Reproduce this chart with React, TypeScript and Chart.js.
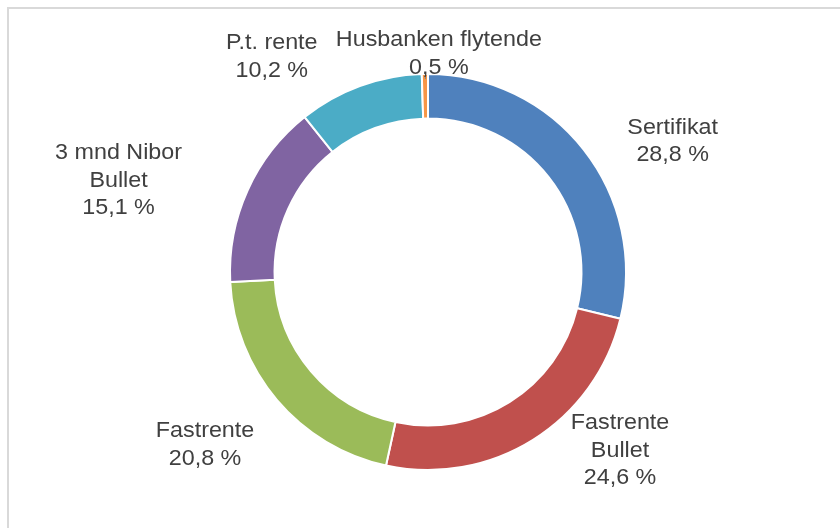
import React, { useEffect, useRef } from "react";
import { Chart, registerables } from "chart.js";

Chart.register(...registerables);

const categories = [
  "Sertifikat",
  "Fastrente Bullet",
  "Fastrente",
  "3 mnd Nibor Bullet",
  "P.t. rente",
  "Husbanken flytende",
];
const labelLines = [
  ["Sertifikat"],
  ["Fastrente", "Bullet"],
  ["Fastrente"],
  ["3 mnd Nibor", "Bullet"],
  ["P.t. rente"],
  ["Husbanken flytende"],
];
const shares = [28.8, 24.6, 20.8, 15.1, 10.2, 0.5];
const colors = ["#4F81BD", "#C0504D", "#9BBB59", "#8064A2", "#4BACC6", "#F79646"];
// label offsets (px) from the slice's outer mid-point, mimicking Excel's "best fit"
const labelNudge: [number, number][] = [
  [89, -8],
  [87, 11],
  [-72, 45],
  [-129, -10],
  [-88, -29],
  [14, -20],
];
const leaderLineFor = [false, false, false, false, false, true];

const fmt = (v: number) => v.toFixed(1).replace(".", ",") + " %";

const framePlugin = {
  id: "frame",
  beforeDraw(chart: any) {
    const ctx = chart.ctx;
    ctx.save();
    ctx.fillStyle = "#ffffff";
    ctx.fillRect(0, 0, chart.width, chart.height);
    ctx.strokeStyle = "#d9d9d9";
    ctx.lineWidth = 2;
    ctx.strokeRect(8, 8, chart.width + 20, chart.height + 20);
    ctx.restore();
  },
};

const labelPlugin = {
  id: "sliceLabels",
  afterDatasetsDraw(chart: any) {
    const ctx = chart.ctx;
    const meta = chart.getDatasetMeta(0);
    const values = chart.data.datasets[0].data as number[];
    const lh = 27.5;
    ctx.save();
    ctx.font = '22px "Liberation Sans", Arial, sans-serif';
    ctx.fillStyle = "#404040";
    ctx.textAlign = "center";
    ctx.textBaseline = "middle";
    meta.data.forEach((arc: any, i: number) => {
      const p = arc.getProps(["x", "y", "startAngle", "endAngle", "outerRadius"], true);
      const mid = (p.startAngle + p.endAngle) / 2;
      const ax = p.x + Math.cos(mid) * p.outerRadius;
      const ay = p.y + Math.sin(mid) * p.outerRadius;
      const cx = ax + labelNudge[i][0];
      const cy = ay + labelNudge[i][1];
      const lines = [...labelLines[i], fmt(values[i])];
      const n = lines.length;
      if (leaderLineFor[i]) {
        ctx.save();
        ctx.strokeStyle = "#7f7f7f";
        ctx.lineWidth = 1;
        ctx.beginPath();
        ctx.moveTo(ax + 0.5, ay);
        ctx.lineTo(ax + 0.5, ay + 5);
        ctx.stroke();
        ctx.restore();
      }
      lines.forEach((t, k) => {
        const y = cy + (k - (n - 1) / 2) * lh;
        ctx.save();
        ctx.translate(cx, y);
        ctx.scale(1.06, 1);
        ctx.fillText(t, 0, 0);
        ctx.restore();
      });
    });
    ctx.restore();
  },
};

export default function App() {
  const ref = useRef<HTMLCanvasElement>(null);
  useEffect(() => {
    if (!ref.current) return;
    const chart = new Chart(ref.current, {
      type: "doughnut",
      data: {
        labels: categories,
        datasets: [
          {
            data: shares,
            backgroundColor: colors,
            borderColor: "#ffffff",
            borderWidth: 2,
            hoverOffset: 0,
          },
        ],
      },
      options: {
        responsive: false,
        animation: false,
        cutout: "77.5%",
        layout: { padding: { top: 73, bottom: 57, left: 20, right: 4 } },
        plugins: {
          legend: { display: false },
          tooltip: { enabled: false },
        },
      },
      plugins: [framePlugin, labelPlugin],
    });
    return () => chart.destroy();
  }, []);
  return (
    <div style={{ position: "fixed", left: 0, top: 0, width: 840, height: 528, background: "#fff" }}>
      <canvas ref={ref} width={840} height={528} style={{ display: "block", width: 840, height: 528 }} />
    </div>
  );
}
